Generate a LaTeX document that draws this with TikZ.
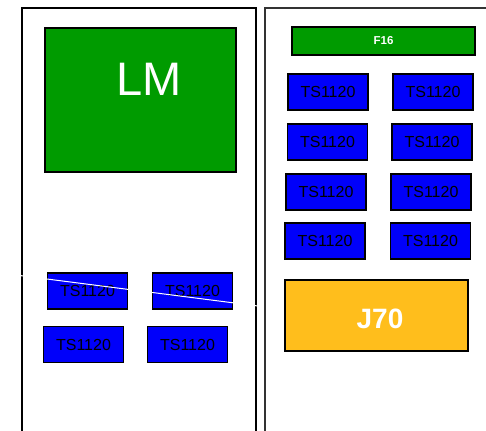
\documentclass[tikz,border=0pt]{standalone}
\usepackage{fontspec}
\setmainfont{Liberation Sans}
\definecolor{boardgreen}{RGB}{0,155,0}
\definecolor{slotblue}{RGB}{0,0,250}
\definecolor{psuorange}{RGB}{255,190,28}
\begin{document}
\begin{tikzpicture}[x=1pt,y=-1pt,
  frame/.style={line width=2pt},
  card/.style={draw=black, line width=1.8pt, rectangle, inner sep=0pt},
  tsbox/.style={card, fill=slotblue, minimum width=80pt, minimum height=36pt,
                font=\fontsize{16}{16}\selectfont, text=black},
  ]
\useasboundingbox (0,0) rectangle (486,430);

% chassis outlines (open towards the bottom)
\draw[frame] (22,432) -- (22,8) -- (256,8) -- (256,432);
\draw[frame, black!80] (265,432) -- (265,8) -- (490,8);

% left chassis
\node[card, fill=boardgreen, minimum width=191pt, minimum height=144pt] (lm) at (140.5,100) {};
\node[text=white, font=\fontsize{47}{47}\selectfont] (lmtext) at (149,79) {LM};

\node[tsbox] (l1) at (87.5,291) {TS1120};
\node[tsbox] (l2) at (192.5,291) {TS1120};
\node[tsbox] (l3) at (83.5,344.5) {TS1120};
\node[tsbox] (l4) at (187.5,344.5) {TS1120};

% right chassis
\node[card, fill=boardgreen, minimum width=183pt, minimum height=28pt,
      text=white, font=\bfseries\fontsize{11.5}{11.5}\selectfont] (f16) at (383.5,41) {F16};

\node[tsbox] (r1) at (328,92) {TS1120};
\node[tsbox] (r2) at (433,92) {TS1120};
\node[tsbox] (r3) at (327.5,142) {TS1120};
\node[tsbox] (r4) at (432,142) {TS1120};
\node[tsbox] (r5) at (326,192) {TS1120};
\node[tsbox] (r6) at (431,192) {TS1120};
\node[tsbox] (r7) at (325,241) {TS1120};
\node[tsbox] (r8) at (430.5,241) {TS1120};

\node[card, fill=psuorange, minimum width=183pt, minimum height=71pt] (j70) at (376.5,315.5) {};
\node[text=white, font=\bfseries\fontsize{28}{28}\selectfont] (j70text) at (380,319) {J70};

% thin white stroke across the left chassis
\coordinate (ws) at (0,273);
\coordinate (we) at (258,306);
\draw[white, line width=1pt] (ws) -- (we);
\end{tikzpicture}
\end{document}
